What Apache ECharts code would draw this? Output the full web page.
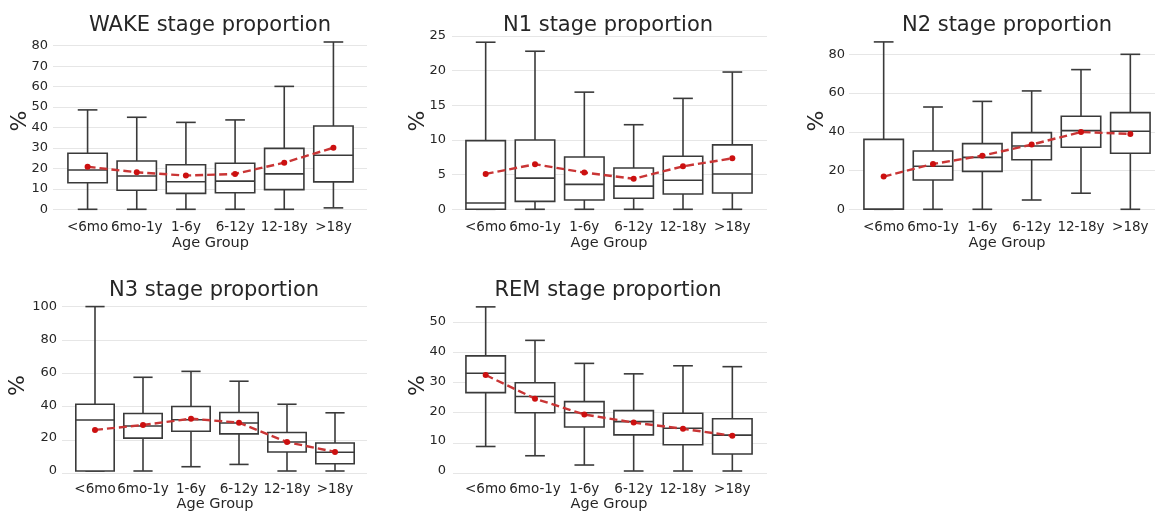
<!DOCTYPE html>
<html>
<head>
<meta charset="utf-8">
<script src="https://cdn.jsdelivr.net/npm/echarts@6/dist/echarts.min.js"></script>
<style>
  html, body { margin: 0; padding: 0; background: #fff; }
  #chart { width: 1155px; height: 513px; }
</style>
</head>
<body>
<div id="chart"></div>
<script>
const ageGroups = ['<6mo', '6mo-1y', '1-6y', '6-12y', '12-18y', '>18y'];

// each box: [min, Q1, median, Q3, max]
const wakeBox = [
  [0, 13.0, 19.2, 27.4, 48.6],
  [0, 9.3, 16.3, 23.6, 45.0],
  [0, 7.8, 13.5, 21.8, 42.5],
  [0, 8.1, 13.8, 22.5, 43.7],
  [0, 9.6, 17.3, 29.8, 60.1],
  [0.7, 13.4, 26.4, 40.7, 81.8]
];
const wakeMean = [20.8, 18.1, 16.5, 17.3, 22.8, 30.1];

const n1Box = [
  [0, 0, 0.9, 9.9, 24.1],
  [0, 1.15, 4.5, 10.0, 22.8],
  [0, 1.35, 3.6, 7.55, 16.9],
  [0, 1.6, 3.35, 5.95, 12.2],
  [0, 2.2, 4.2, 7.65, 16.0],
  [0, 2.35, 5.1, 9.3, 19.8]
];
const n1Mean = [5.1, 6.5, 5.3, 4.4, 6.2, 7.35];

const n2Box = [
  [0, 0, 0, 36.1, 86.4],
  [0, 15.1, 22.2, 30.1, 52.8],
  [0, 19.6, 26.8, 33.9, 55.7],
  [4.8, 25.6, 32.7, 39.6, 61.1],
  [8.3, 32.0, 40.6, 48.0, 72.1],
  [0, 28.9, 40.3, 49.9, 80.0]
];
const n2Mean = [16.9, 23.4, 27.7, 33.4, 39.9, 38.9];

const n3Box = [
  [0, 0, 31.0, 40.6, 100],
  [0, 20.0, 27.4, 35.0, 57.0],
  [2.6, 24.2, 31.2, 39.2, 60.6],
  [4.0, 22.6, 29.2, 35.6, 54.6],
  [0, 11.6, 17.6, 23.4, 40.6],
  [0, 4.4, 11.4, 17.0, 35.4]
];
const n3Mean = [25.0, 28.0, 31.8, 29.4, 17.6, 11.6];

const remBox = [
  [8.2, 26.2, 32.7, 38.5, 54.9],
  [5.1, 19.5, 24.9, 29.5, 43.7],
  [2.0, 14.7, 19.5, 23.2, 36.0],
  [0, 12.1, 16.5, 20.2, 32.5],
  [0, 8.8, 14.3, 19.3, 35.2],
  [0, 5.7, 12.0, 17.5, 34.9]
];
const remMean = [32.1, 24.2, 18.9, 16.2, 14.1, 11.8];

const panels = [
  { title: 'WAKE stage proportion', box: wakeBox, mean: wakeMean, max: 86.2, interval: 10,
    left: 63, width: 295, top: 33, zero: 209.3, lineFrom: 53, lineTo: 367, titleX: 210, titleY: 15, labelRight: 48, pctX: 20 },
  { title: 'N1 stage proportion', box: n1Box, mean: n1Mean, max: 25.43, interval: 5,
    left: 461, width: 296, top: 33, zero: 209.3, lineFrom: 452, lineTo: 767, titleX: 608, titleY: 15, labelRight: 446, pctX: 418 },
  { title: 'N2 stage proportion', box: n2Box, mean: n2Mean, max: 91, interval: 20,
    left: 859, width: 296, top: 33, zero: 209.3, lineFrom: 849, lineTo: 1155, titleX: 1007, titleY: 15, labelRight: 845, pctX: 817 },
  { title: 'N3 stage proportion', box: n3Box, mean: n3Mean, max: 104, interval: 20,
    left: 71, width: 288, top: 300, zero: 473.3, lineFrom: 62, lineTo: 367, titleX: 214, titleY: 280, labelRight: 57, pctX: 18 },
  { title: 'REM stage proportion', box: remBox, mean: remMean, max: 57.2, interval: 10,
    left: 461, width: 296, top: 300, zero: 473.3, lineFrom: 453, lineTo: 767, titleX: 608, titleY: 280, labelRight: 446, pctX: 418 }
];

const textColor = '#262626';
const boxColor = '#3a3a3a';
const font = 'DejaVu Sans';

function renderBox(params, api) {
  const i = api.value(0);
  const band = api.size([1, 0])[0];
  const w = band * 0.8;
  const cx = api.coord([i, 0])[0];
  const ys = [1, 2, 3, 4, 5].map(d => api.coord([i, api.value(d)])[1]);
  const [yMin, yQ1, yMed, yQ3, yMax] = ys;
  const line = { stroke: boxColor, lineWidth: 1.6 };
  return {
    type: 'group',
    children: [
      { type: 'line', shape: { x1: cx, y1: yQ3, x2: cx, y2: yMax }, style: line },
      { type: 'line', shape: { x1: cx, y1: yQ1, x2: cx, y2: yMin }, style: line },
      { type: 'line', shape: { x1: cx - w / 4, y1: yMax, x2: cx + w / 4, y2: yMax }, style: line },
      { type: 'line', shape: { x1: cx - w / 4, y1: yMin, x2: cx + w / 4, y2: yMin }, style: line },
      { type: 'rect', shape: { x: cx - w / 2, y: yQ3, width: w, height: yQ1 - yQ3 },
        style: { fill: '#fff', stroke: boxColor, lineWidth: 1.6 } },
      { type: 'line', shape: { x1: cx - w / 2, y1: yMed, x2: cx + w / 2, y2: yMed }, style: line }
    ]
  };
}

const option = {
  animation: false,
  backgroundColor: '#fff',
  title: [],
  grid: [],
  xAxis: [],
  yAxis: [],
  series: []
};

panels.forEach((p, k) => {
  const height = p.zero - p.top;
  const bg = k * 2, main = k * 2 + 1;

  option.title.push({
    text: p.title, left: p.titleX, top: p.titleY, textAlign: 'center', padding: 0,
    textStyle: { fontFamily: font, fontSize: 21, fontWeight: 'normal', color: textColor }
  });

  // background grid: only the horizontal gridlines, a little wider than the plot
  option.grid.push({ left: p.lineFrom, top: p.top, width: p.lineTo - p.lineFrom, height: height });
  option.xAxis.push({ gridIndex: bg, type: 'value', show: false });
  option.yAxis.push({
    gridIndex: bg, type: 'value', min: 0, max: p.max, interval: p.interval,
    axisLine: { show: false }, axisTick: { show: false }, axisLabel: { show: false },
    splitLine: { show: true, showMaxLine: false, lineStyle: { color: '#e6e6e6', width: 1 } }
  });

  // main grid with the boxes
  option.grid.push({ left: p.left, top: p.top, width: p.width, height: height });
  option.xAxis.push({
    gridIndex: main, type: 'category', data: ageGroups,
    axisLine: { show: false }, axisTick: { show: false },
    axisLabel: { margin: 11, fontFamily: font, fontSize: 13.5, color: textColor, interval: 0 },
    name: 'Age Group', nameLocation: 'middle', nameGap: 26,
    nameTextStyle: { fontFamily: font, fontSize: 14.5, color: textColor }
  });
  option.yAxis.push({
    gridIndex: main, type: 'value', min: 0, max: p.max, interval: p.interval,
    axisLine: { show: false }, axisTick: { show: false }, splitLine: { show: false },
    axisLabel: { margin: p.left - p.labelRight, showMaxLabel: false,
      fontFamily: font, fontSize: 13, color: textColor },
    name: '%', nameLocation: 'middle', nameGap: p.left - p.pctX - 11, nameMoveOverlap: false,
    nameTextStyle: { fontFamily: font, fontSize: 22, color: textColor }
  });

  option.series.push({
    type: 'custom', xAxisIndex: main, yAxisIndex: main,
    data: p.box.map((b, i) => [i].concat(b)),
    encode: { x: 0, y: [1, 2, 3, 4, 5] },
    renderItem: renderBox,
    z: 2
  });
  option.series.push({
    type: 'line', xAxisIndex: main, yAxisIndex: main,
    data: p.mean,
    symbol: 'circle', symbolSize: 6,
    itemStyle: { color: '#cc1010' },
    lineStyle: { color: '#c93535', width: 2.4, type: [8, 4] },
    z: 3
  });
});

const chart = echarts.init(document.getElementById('chart'));
chart.setOption(option);
window.addEventListener('resize', () => chart.resize());
</script>
</body>
</html>
